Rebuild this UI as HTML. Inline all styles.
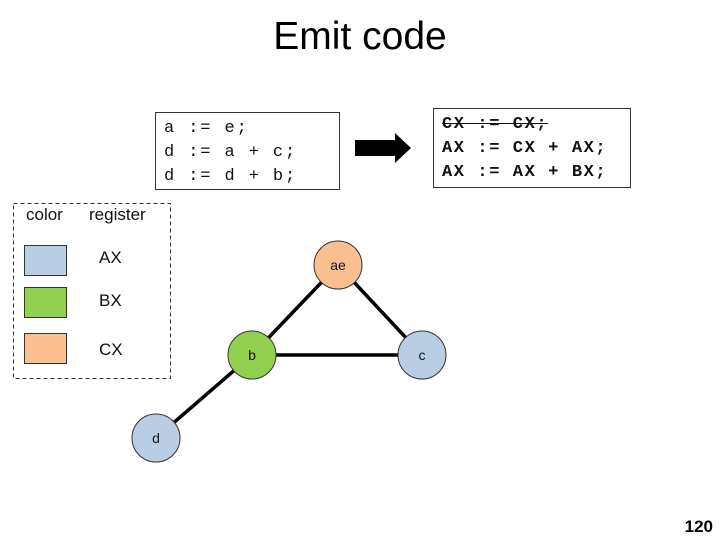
<!DOCTYPE html>
<html><head><style>
body{margin:0;width:720px;height:540px;background:#fff;position:relative;overflow:hidden;font-family:"Liberation Sans",sans-serif}
.a{position:absolute}
.code{font-family:"Liberation Mono",monospace;font-size:17px;letter-spacing:1.9px;line-height:24px;white-space:pre;color:#111;border:1px solid #333;box-sizing:border-box;padding:4px 0 0 8px}
</style></head><body>
<div class="a" style="left:0;width:720px;top:15px;text-align:center;font-size:39px;">Emit code</div>
<div class="a code" style="left:155px;top:112px;width:185px;height:78px;">a := e;
d := a + c;
d := d + b;</div>
<div class="a code" style="left:433px;top:108px;width:198px;height:80px;font-weight:bold;padding-left:8px;letter-spacing:1.6px"><span style="text-decoration:line-through">CX := CX;</span>
AX := CX + AX;
AX := AX + BX;</div>
<svg class="a" style="left:0;top:0" width="720" height="540">
<polygon points="355,140 395,140 395,133 411,148 395,163 395,156 355,156" fill="#000"/>
<rect x="13.5" y="203.5" width="157" height="175" fill="none" stroke="#333" stroke-dasharray="4,3"/>
<rect x="24.5" y="245.5" width="42" height="30" fill="#b9cde4" stroke="#333"/>
<rect x="24.5" y="287.5" width="42" height="30" fill="#92d050" stroke="#333"/>
<rect x="24.5" y="333.5" width="42" height="30" fill="#fac090" stroke="#333"/>
<g stroke="#000" stroke-width="3.5">
<line x1="338" y1="265" x2="252" y2="355"/><line x1="338" y1="265" x2="422" y2="355"/>
<line x1="252" y1="355" x2="422" y2="355"/><line x1="252" y1="355" x2="156" y2="438"/>
</g>
<g stroke="#333" stroke-width="1">
<circle cx="338" cy="265" r="24" fill="#fac090"/>
<circle cx="252" cy="355" r="24" fill="#92d050"/>
<circle cx="422" cy="355" r="24" fill="#b9cde4"/>
<circle cx="156" cy="438" r="24" fill="#b9cde4"/>
</g>
<g font-family="Liberation Sans,sans-serif" font-size="14" text-anchor="middle" fill="#111">
<text x="338" y="270">ae</text><text x="252" y="360">b</text><text x="422" y="360">c</text><text x="156" y="443">d</text>
</g>
<g font-family="Liberation Sans,sans-serif" font-size="17" fill="#111">
<text x="26" y="220">color</text><text x="89" y="220">register</text>
<text x="99" y="263">AX</text><text x="99" y="306">BX</text><text x="99" y="355">CX</text>
</g>
<text x="713" y="532" text-anchor="end" font-family="Liberation Sans,sans-serif" font-size="17" font-weight="bold">120</text>
</svg>
</body></html>
